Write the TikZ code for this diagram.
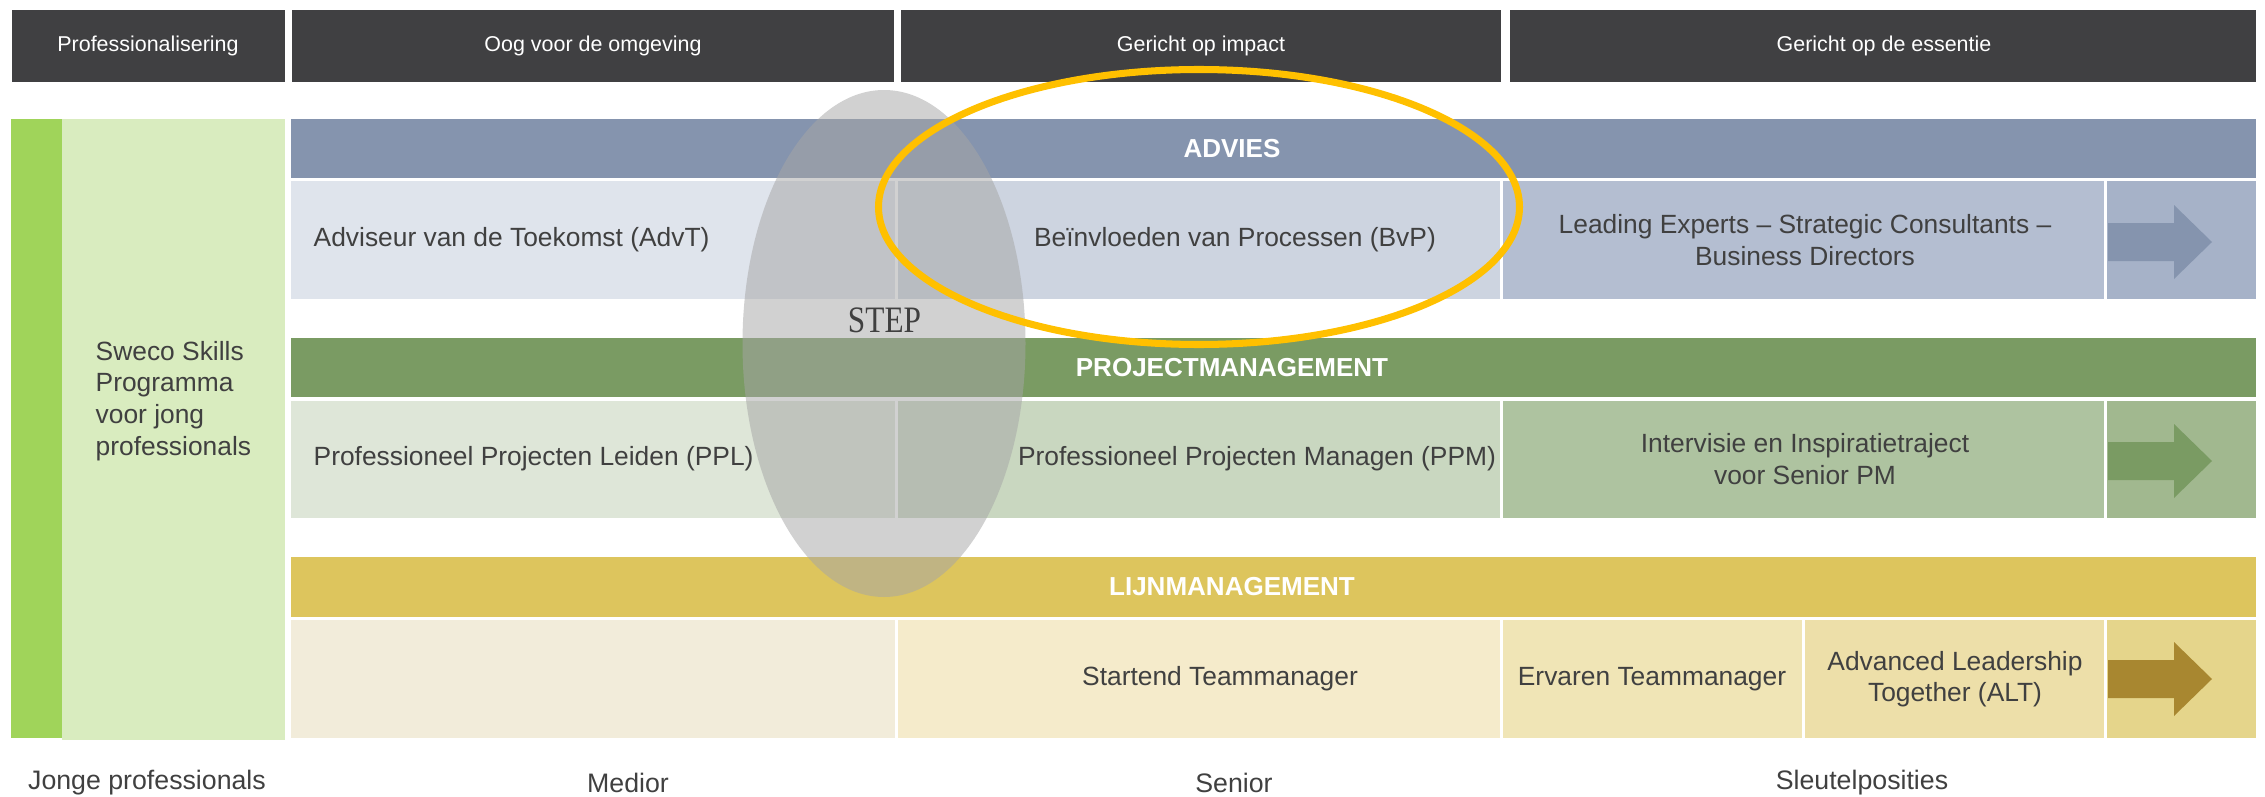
\documentclass[tikz,border=0pt]{standalone}
\usepackage{fontspec}
\setmainfont{Liberation Sans}
\newfontfamily\stepfont{Liberation Serif}[FakeStretch=0.84]
\usepackage{tikz}

\definecolor{kop}{HTML}{404042}
\definecolor{tekst}{HTML}{404040}
\definecolor{donkergroen}{HTML}{A0D45A}
\definecolor{lichtgroen}{HTML}{D9ECBF}
\definecolor{advies}{HTML}{8594AE}
\definecolor{adviesa}{HTML}{DFE4EC}
\definecolor{adviesb}{HTML}{CDD4E0}
\definecolor{adviesc}{HTML}{B4BED1}
\definecolor{adviesd}{HTML}{A6B2C8}
\definecolor{pm}{HTML}{7A9B63}
\definecolor{pma}{HTML}{DEE6D8}
\definecolor{pmb}{HTML}{C9D7C0}
\definecolor{pmc}{HTML}{AEC3A0}
\definecolor{pmd}{HTML}{A1B88F}
\definecolor{lijn}{HTML}{DDC55D}
\definecolor{lijna}{HTML}{F2ECDA}
\definecolor{lijnb}{HTML}{F5EBCB}
\definecolor{lijnc}{HTML}{F0E5B6}
\definecolor{lijnd}{HTML}{EDDFA9}
\definecolor{lijne}{HTML}{E5D58B}
\definecolor{lijnpijl}{HTML}{A88730}
\definecolor{stepgrijs}{HTML}{A6A6A6}
\definecolor{geel}{HTML}{FFC000}

\tikzset{
  kopje/.style={text=white, font=\fontsize{6.1}{7}\selectfont},
  balk/.style={text=white, font=\bfseries\fontsize{7.4}{9}\selectfont},
  cel/.style={text=tekst, inner sep=0pt, align=center, font=\fontsize{7.5}{9}\selectfont},
  niveau/.style={text=tekst, font=\fontsize{7.6}{9}\selectfont},
}

\begin{document}
\begin{tikzpicture}[x=0.01cm, y=-0.01cm]
      \useasboundingbox (0,0) rectangle (2265,797);
      % kopjes
      \fill[kop] (12,10) rectangle (285,82);
      \fill[kop] (292,10) rectangle (894,82);
      \fill[kop] (901,10) rectangle (1501,82);
      \fill[kop] (1510,10) rectangle (2256,82);
      \node[kopje] (prof) at (148,46) {Professionalisering};
      \node[kopje] (oog) at (593,46) {Oog voor de omgeving};
      \node[kopje] (impact) at (1201,46) {Gericht op impact};
      \node[kopje] (essentie) at (1884,46) {Gericht op de essentie};
      % jonge professionals
      \fill[donkergroen] (11,119) rectangle (62,738);
      \fill[lichtgroen] (62,119) rectangle (285,740);
      % advies
      \fill[advies] (291,119) rectangle (2256,178);
      \fill[adviesa] (291,181) rectangle (895,299);
      \fill[adviesb] (898,181) rectangle (1500,299);
      \fill[adviesc] (1503,181) rectangle (2104,299);
      \fill[adviesd] (2107,181) rectangle (2256,299);
      \fill[advies] (2108,223) -- (2174,223) -- (2174,205) -- (2212,242)
            -- (2174,279) -- (2174,261) -- (2108,261) -- cycle;
      % projectmanagement
      \fill[pm] (291,338) rectangle (2256,397);
      \fill[pma] (291,401) rectangle (895,518);
      \fill[pmb] (898,401) rectangle (1500,518);
      \fill[pmc] (1503,401) rectangle (2104,518);
      \fill[pmd] (2107,401) rectangle (2256,518);
      \fill[pm] (2108,442) -- (2174,442) -- (2174,424) -- (2212,461)
            -- (2174,498) -- (2174,480) -- (2108,480) -- cycle;
      % lijnmanagement
      \fill[lijn] (291,557) rectangle (2256,617);
      \fill[lijna] (291,620) rectangle (895,738);
      \fill[lijnb] (898,620) rectangle (1500,738);
      \fill[lijnc] (1503,620) rectangle (1802,738);
      \fill[lijnd] (1805,620) rectangle (2104,738);
      \fill[lijne] (2107,620) rectangle (2256,738);
      \fill[lijnpijl] (2108,660) -- (2174,660) -- (2174,642) -- (2212,679)
            -- (2174,716) -- (2174,698) -- (2108,698) -- cycle;
      % STEP
      \fill[stepgrijs, opacity=0.52] (884,343.5) ellipse [x radius=141.5, y radius=253.5];
      \node[text=tekst, font=\stepfont\fontsize{10.6}{12}\selectfont] (steplabel) at (884.5,320) {STEP};
      % teksten
      \node[cel, align=left, anchor=west] (sweco) at (95,401)
            {Sweco Skills\\Programma\\voor jong\\professionals};
      \node[balk] (adv) at (1232,149) {ADVIES};
      \node[balk] (proj) at (1232,368) {PROJECTMANAGEMENT};
      \node[balk] (lm) at (1232,587) {LIJNMANAGEMENT};
      \node[cel, anchor=west] (advt) at (313,240) {Adviseur van de Toekomst (AdvT)};
      \node[cel] (bvp) at (1235,240) {Beïnvloeden van Processen (BvP)};
      \node[cel] (leading) at (1805,240) {Leading Experts – Strategic Consultants –\\Business Directors};
      \node[cel, anchor=west] (ppl) at (313,459) {Professioneel Projecten Leiden (PPL)};
      \node[cel] (ppm) at (1257,459) {Professioneel Projecten Managen (PPM)};
      \node[cel] (intervisie) at (1805,459) {Intervisie en Inspiratietraject\\voor Senior PM};
      \node[cel] (startend) at (1220,679) {Startend Teammanager};
      \node[cel] (ervaren) at (1652,679) {Ervaren Teammanager};
      \node[cel] (alt) at (1955,679) {Advanced Leadership\\Together (ALT)};
      % niveaus
      \node[niveau] (jong) at (147,783) {Jonge professionals};
      \node[niveau] (medior) at (628,783) {Medior};
      \node[niveau] (senior) at (1234,783) {Senior};
      \node[niveau] (sleutel) at (1862,783) {Sleutelposities};
      % focus
      \draw[geel, line width=2pt] (1199,207) ellipse [x radius=320.5, y radius=137.5];
    \end{tikzpicture}
\end{document}
